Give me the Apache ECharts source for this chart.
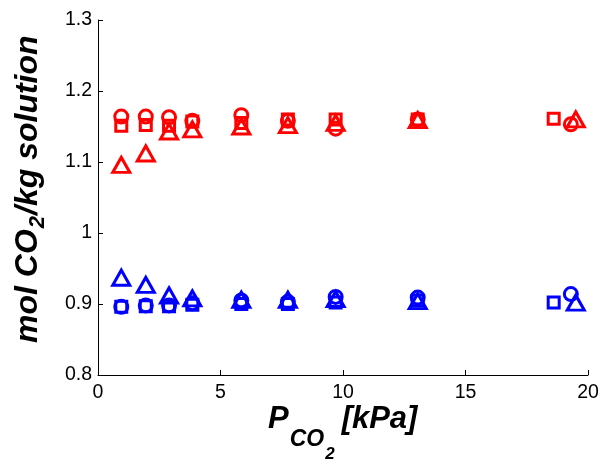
<!DOCTYPE html>
<html>
<head>
<meta charset="utf-8">
<script src="https://cdn.jsdelivr.net/npm/echarts@6/dist/echarts.min.js"></script>
<style>
  html, body { margin: 0; padding: 0; background: #fff; }
  #chart { width: 602px; height: 462px; }
</style>
</head>
<body>
<div id="chart"></div>
<script>
// CO2 loading (mol CO2 / kg solution) against CO2 partial pressure (kPa)
const xCircle   = [0.95, 1.95, 2.9, 3.85, 5.85, 7.75, 9.7, 13.05, 19.3];
const xSquare   = [0.95, 1.95, 2.9, 3.85, 5.85, 7.75, 9.7, 13.05, 18.6];
const xTriangle = [0.95, 1.95, 2.9, 3.85, 5.85, 7.75, 9.7, 13.05, 19.5];

const redCircle   = [1.164, 1.164, 1.163, 1.158, 1.166, 1.158, 1.147, 1.160, 1.153];
const redSquare   = [1.151, 1.152, 1.151, 1.157, 1.155, 1.160, 1.160, 1.160, 1.161];
const redTriangle = [1.096, 1.112, 1.143, 1.146, 1.150, 1.152, 1.155, 1.159, 1.160];

const blueCircle   = [0.896, 0.898, 0.898, 0.901, 0.905, 0.903, 0.910, 0.909, 0.914];
const blueSquare   = [0.896, 0.897, 0.897, 0.899, 0.900, 0.900, 0.902, 0.905, 0.902];
const blueTriangle = [0.937, 0.927, 0.912, 0.908, 0.906, 0.906, 0.907, 0.904, 0.902];

const xTicks = [0, 5, 10, 15, 20];
const yTicks = [0.8, 0.9, 1, 1.1, 1.2, 1.3];

const FONT = '"Liberation Sans", Arial, sans-serif';

function pairs(xs, ys) { return xs.map((x, i) => [x, ys[i]]); }

function markerSeries(xs, ys, color, symbol) {
  const size = symbol === 'circle' ? 13 : symbol === 'rect' ? 11 : [17, 15];
  return {
    type: 'scatter',
    data: pairs(xs, ys),
    symbol: symbol,
    symbolSize: size,
    itemStyle: { color: 'transparent', borderColor: color, borderWidth: 3, opacity: 1 },
    emphasis: { disabled: true },
    animation: false
  };
}

// text width helper for placing subscript pieces
const measureCtx = document.createElement('canvas').getContext('2d');
function textWidth(str, size) {
  measureCtx.font = 'italic bold ' + size + 'px ' + FONT;
  return measureCtx.measureText(str).width;
}

function piece(text, size, x, y) {
  return {
    type: 'text', x: x, y: y,
    style: { text: text, font: 'italic bold ' + size + 'px ' + FONT, fill: '#000', align: 'left', verticalAlign: 'middle' },
    silent: true
  };
}

// y-axis title, rotated to read bottom-to-top
const yMain = 32, ySub = 22;
const yA = 'mol CO', yB = '2', yC = '/kg solution';
const wA = textWidth(yA, yMain), wB = textWidth(yB, ySub);
const yTitle = {
  type: 'group', x: 28, y: 343, rotation: Math.PI / 2,
  children: [
    piece(yA, yMain, 0, 0),
    piece(yB, ySub, wA + 1, 10),
    piece(yC, yMain, wA + wB + 2, 0)
  ]
};

// x-axis title: P with subscript CO, which carries its own subscript 2
const xMain = 31, xSub = 23, xSub2 = 17;
const wP = textWidth('P', xMain), wCO = textWidth('CO', xSub), w2 = textWidth('2', xSub2);
const xTitle = {
  type: 'group', x: 268, y: 419,
  children: [
    piece('P', xMain, 0, 0),
    piece('CO', xSub, wP + 1, 21),
    piece('2', xSub2, wP + 1 + wCO + 1, 35),
    piece('[kPa]', xMain, wP + 1 + wCO + w2 + 8, 0)
  ]
};

const chart = echarts.init(document.getElementById('chart'), null, { renderer: 'canvas' });
chart.setOption({
  backgroundColor: '#fff',
  animation: false,
  grid: { left: 98, top: 20, right: 14, bottom: 87, containLabel: false },
  xAxis: {
    type: 'value', min: 0, max: 20, interval: 5,
    axisLine: { show: true, onZero: false, lineStyle: { color: '#000', width: 1 } },
    axisTick: { show: true, inside: true, length: 5, lineStyle: { color: '#000' } },
    axisLabel: {
      color: '#000', fontSize: 19.5, fontFamily: FONT, margin: 8,
      formatter: v => xTicks.includes(v) ? String(v) : ''
    },
    splitLine: { show: false }
  },
  yAxis: {
    type: 'value', min: 0.8, max: 1.3, interval: 0.1,
    axisLine: { show: true, onZero: false, lineStyle: { color: '#000', width: 1 } },
    axisTick: { show: true, inside: true, length: 5, lineStyle: { color: '#000' } },
    axisLabel: {
      color: '#000', fontSize: 19.5, fontFamily: FONT, margin: 6,
      formatter: v => {
        const t = yTicks.find(k => Math.abs(k - v) < 1e-9);
        return t === undefined ? '' : String(t);
      }
    },
    splitLine: { show: false }
  },
  graphic: [yTitle, xTitle],
  series: [
    markerSeries(xSquare, redSquare, '#ff0000', 'rect'),
    markerSeries(xTriangle, redTriangle, '#ff0000', 'triangle'),
    markerSeries(xCircle, redCircle, '#ff0000', 'circle'),
    markerSeries(xSquare, blueSquare, '#0000ff', 'rect'),
    markerSeries(xTriangle, blueTriangle, '#0000ff', 'triangle'),
    markerSeries(xCircle, blueCircle, '#0000ff', 'circle')
  ]
});
</script>
</body>
</html>
